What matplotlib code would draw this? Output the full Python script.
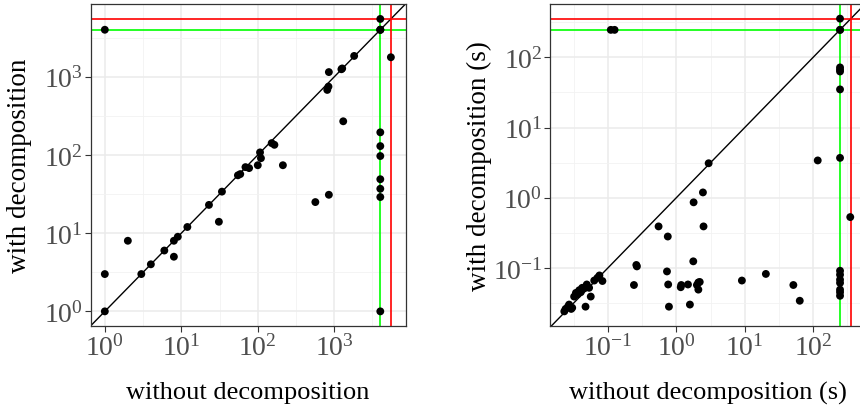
import numpy as np
import matplotlib
matplotlib.use("Agg")
import matplotlib.pyplot as plt
from matplotlib.ticker import LogLocator, FixedLocator

plt.rcParams['font.family'] = ['Liberation Serif', 'DejaVu Serif']
plt.rcParams['mathtext.fontset'] = 'custom'
plt.rcParams['mathtext.rm'] = 'Liberation Serif'
plt.rcParams['mathtext.it'] = 'Liberation Serif:italic'

# left panel: instance size / count, without vs with decomposition
left_without = [1, 4000, 4000, 4000, 4000, 5500, 1820, 1270, 1240, 850, 840, 810,
                1310, 4000, 4000, 4000, 4000, 4000, 4000, 4000, 152, 165, 107, 110,
                100, 213, 69, 77, 55, 59, 34, 23, 31, 566, 850, 12, 9, 8, 8, 6,
                4, 3, 2, 1, 1]
left_with = [4000, 5500, 4000, 4000, 4000, 1780, 1850, 1280, 1250, 1150, 750, 680,
             270, 195, 130, 97, 49, 37, 29, 1, 142, 135, 108, 91,
             74, 74, 70, 68, 55, 57, 34, 23, 14, 25, 31, 12, 9, 8, 5, 6,
             4, 3, 8, 3, 1]
left_green = 4000
left_red = 5550

# right panel: runtime in seconds
right_without = [0.11, 0.125, 248, 248, 248, 248, 248, 248, 248, 117, 350,
                 2.97, 2.45, 1.79, 2.5, 0.55, 0.75, 0.26, 0.265, 0.24, 0.73, 0.76,
                 0.78, 1.77, 1.16, 1.18, 1.48, 1.58, 2.1, 2.2, 2.0, 2.1, 9.1, 20.4,
                 51.5, 63.9,
                 248, 248, 248, 248, 248, 248, 248, 248,
                 0.023, 0.026, 0.024, 0.029, 0.030, 0.032, 0.036, 0.040, 0.045,
                 0.049, 0.053, 0.056, 0.047, 0.070, 0.075, 0.083, 0.063, 0.042,
                 0.034, 0.027, 0.038]
right_with = [247, 247, 357, 247, 247, 72, 67, 63, 35, 3.4, 0.53,
              3.1, 1.19, 0.86, 0.39, 0.39, 0.28, 0.11, 0.105, 0.057, 0.089, 0.058,
              0.028, 0.124, 0.053, 0.057, 0.058, 0.030, 0.062, 0.063, 0.057, 0.049,
              0.066, 0.082, 0.057, 0.034,
              3.7, 0.091, 0.080, 0.068, 0.061, 0.049, 0.045, 0.040,
              0.024, 0.028, 0.026, 0.026, 0.027, 0.039, 0.042, 0.045, 0.051,
              0.058, 0.052, 0.039, 0.028, 0.072, 0.078, 0.065, 0.066, 0.052,
              0.044, 0.030, 0.048]
right_green = 247
right_red = 355


def log_limits(values):
    lo, hi = np.log10(min(values)), np.log10(max(values))
    pad = 0.05 * (hi - lo)
    return 10 ** (lo - pad), 10 ** (hi + pad)


def panel(ax, xs, ys, green, red, xlabel, ylabel):
    ax.set_xscale('log')
    ax.set_yscale('log')
    ax.set_xlim(log_limits(list(xs) + [red]))
    ax.set_ylim(log_limits(list(ys) + [red]))

    ax.xaxis.set_major_locator(LogLocator(base=10, numticks=20))
    ax.yaxis.set_major_locator(LogLocator(base=10, numticks=20))
    # ggplot style minor grid at the half decade
    halves = [10 ** (k + 0.5) for k in range(-4, 5)]
    ax.xaxis.set_minor_locator(FixedLocator(halves))
    ax.yaxis.set_minor_locator(FixedLocator(halves))
    ax.tick_params(which='minor', length=0)
    ax.tick_params(which='major', length=4, width=0.8, color='#333333',
                   labelsize=20, labelcolor='#4D4D4D', pad=1.5)

    ax.grid(which='major', color='#EBEBEB', lw=1.1)
    ax.grid(which='minor', color='#F2F2F2', lw=0.6)
    ax.set_axisbelow(True)
    for s in ax.spines.values():
        s.set_color('#333333')
        s.set_linewidth(0.9)

    ax.axline((1, 1), (10, 10), color='black', lw=1.0, zorder=2)
    ax.axhline(green, color='#00FF00', lw=1.2, zorder=2)
    ax.axvline(green, color='#00FF00', lw=1.2, zorder=2)
    ax.axhline(red, color='#FF0000', lw=1.2, zorder=2)
    ax.axvline(red, color='#FF0000', lw=1.2, zorder=2)
    ax.scatter(xs, ys, s=32, color='black', edgecolors='none', zorder=3)

    ax.set_xlabel(xlabel, fontsize=19)
    ax.set_ylabel(ylabel, fontsize=19.5)
    ax.xaxis.set_label_coords(0.5, -0.205)
    ax.yaxis.set_label_coords(-0.225, 0.5)
    ax.xaxis.label.set_va('center')
    ax.yaxis.label.set_va('center')


fig = plt.figure(figsize=(8.6, 4.1), dpi=100)
ax1 = fig.add_axes([90.5 / 860, 1 - 327 / 410, 315 / 860, 322 / 410])
ax2 = fig.add_axes([550 / 860, 1 - 327 / 410, 315 / 860, 322 / 410])

panel(ax1, left_without, left_with, left_green, left_red,
      'without decomposition', 'with decomposition')
panel(ax2, right_without, right_with, right_green, right_red,
      'without decomposition (s)', 'with decomposition (s)')

fig.savefig('out.png', dpi=100)
